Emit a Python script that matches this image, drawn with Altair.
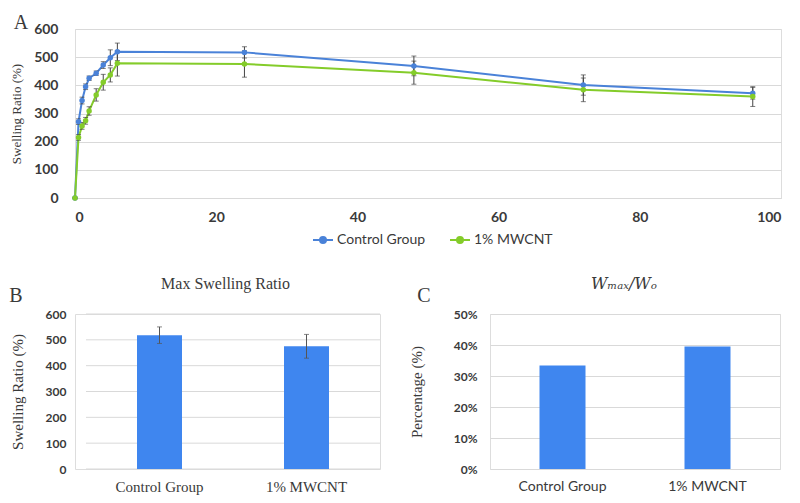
import altair as alt
import pandas as pd

# ---------------- data ----------------
time_h = [0, 0.5, 1, 1.5, 2, 3, 4, 5, 6, 24, 48, 72, 96]
control_mean = [0, 271, 346, 395, 425, 443, 472, 498, 519, 517, 469, 401, 372]
control_err = [0, 10, 12, 10, 8, 8, 12, 28, 31, 20, 35, 36, 21]
mwcnt_mean = [0, 215, 256, 274, 309, 366, 411, 437, 478, 476, 445, 384, 360]
mwcnt_err = [0, 10, 12, 12, 15, 22, 28, 25, 45, 47, 41, 42, 35]

groups = ["Control Group", "1% MWCNT"]
max_swelling = [518, 475]
max_swelling_err = [32, 46]
wmax_wo = [0.334, 0.395]

y_ticks_a = [0, 100, 200, 300, 400, 500, 600]
x_ticks_a = [0, 20, 40, 60, 80, 100]
pct_ticks = [0, 0.1, 0.2, 0.3, 0.4, 0.5]
panel_letters = ["A", "B", "C"]

SERIF = "Liberation Serif"
SANS = "Lato"
BLUE_LINE = "#4a82d8"
GREEN_LINE = "#84cc2a"
BAR = "#3f86ef"
GRID = "#d9d9d9"
TXT = "#3a3a3a"

rows = []
for g, means, errs in [(groups[0], control_mean, control_err), (groups[1], mwcnt_mean, mwcnt_err)]:
    for t, m, e in zip(time_h, means, errs):
        rows.append({"group": g, "time": t, "mean": m, "lo": m - e, "hi": m + e})
df_a = pd.DataFrame(rows)


def letter(ch, dx, dy):
    return alt.Chart(pd.DataFrame({"t": [ch]})).mark_text(
        font=SERIF, fontSize=20, color=TXT, align="center", baseline="middle"
    ).encode(text="t:N", x=alt.value(dx), y=alt.value(dy))


# ---------------- panel A ----------------
color_scale = alt.Scale(domain=groups, range=[BLUE_LINE, GREEN_LINE])
xa_scale = alt.Scale(domain=[0, 100], nice=False)
xa_axis = alt.Axis(values=x_ticks_a, title=None, grid=False, ticks=False,
                   domain=True, domainColor=GRID, labelFont=SANS, labelFontSize=14,
                   labelFontWeight="bold", labelColor=TXT, labelPadding=12, labelOverlap=False)
ya_scale = alt.Scale(domain=[0, 600], nice=False)
ya_axis = alt.Axis(values=y_ticks_a, title="Swelling Ratio (%)", grid=True, gridColor=GRID,
                   ticks=False, domain=False, labelFont=SANS, labelFontSize=14,
                   labelFontWeight="bold", labelColor=TXT, labelPadding=17,
                   labelOverlap=False, titleFont=SERIF, titleFontSize=13,
                   titleFontWeight="normal", titleColor=TXT, titlePadding=10)


def xa(field):
    return alt.X(field, scale=xa_scale, axis=xa_axis)


def ya(field):
    return alt.Y(field, scale=ya_scale, axis=ya_axis)


base_a = alt.Chart(df_a)
lines = base_a.mark_line(strokeWidth=2).encode(
    x=xa("time:Q"), y=ya("mean:Q"),
    color=alt.Color("group:N", scale=color_scale, sort=groups,
                    legend=alt.Legend(orient="none", legendX=237, legendY=200, direction="horizontal",
                                      title=None, labelFont=SANS, labelFontSize=14, labelColor=TXT,
                                      symbolType="M-1,0H1M0.3,0A0.3,0.3 0 1,1 -0.3,0A0.3,0.3 0 1,1 0.3,0",
                                      symbolSize=400, symbolStrokeWidth=2, columnPadding=20,
                                      labelOffset=3)),
)
points = base_a.mark_circle(size=30, opacity=1).encode(
    x=xa("time:Q"), y=ya("mean:Q"),
    color=alt.Color("group:N", scale=color_scale, sort=groups, legend=None),
)
whisk = base_a.mark_rule(color="#444444", strokeWidth=1).encode(
    x=xa("time:Q"), y=ya("lo:Q"), y2="hi:Q")
cap_lo = base_a.mark_tick(color="#444444", orient="horizontal", size=5, thickness=1).encode(
    x=xa("time:Q"), y=ya("lo:Q"))
cap_hi = base_a.mark_tick(color="#444444", orient="horizontal", size=5, thickness=1).encode(
    x=xa("time:Q"), y=ya("hi:Q"))

chart_a = alt.layer(lines, whisk, cap_lo, cap_hi, points, letter(panel_letters[0], -54, -6)).properties(
    width=706, height=169)

# ---------------- panel B ----------------
df_b = pd.DataFrame({"group": groups, "value": max_swelling,
                     "lo": [v - e for v, e in zip(max_swelling, max_swelling_err)],
                     "hi": [v + e for v, e in zip(max_swelling, max_swelling_err)]})
df_grid_b = pd.DataFrame({"v": y_ticks_a})

xb_scale = alt.Scale(range=[11, 305], paddingInner=0.69, paddingOuter=0.345)
xb_axis = alt.Axis(title=None, ticks=False, domain=False, labelAngle=0, labelFont=SERIF,
                   labelFontSize=15, labelColor=TXT, labelPadding=10)
yb_scale = alt.Scale(domain=[0, 600], nice=False)
yb_axis = alt.Axis(values=y_ticks_a, title="Swelling Ratio (%)", grid=False, ticks=False,
                   domain=False, offset=-11, labelFont=SANS, labelFontSize=12,
                   labelFontWeight="bold", labelColor=TXT, labelOverlap=False,
                   labelPadding=20, titleFont=SERIF, titleFontSize=15, titleFontWeight="normal",
                   titleColor=TXT, titlePadding=20)


def xb(field):
    return alt.X(field, sort=groups, scale=xb_scale, axis=xb_axis)


def yb(field):
    return alt.Y(field, scale=yb_scale, axis=yb_axis)


grid_b = alt.Chart(df_grid_b).mark_rule(color=GRID, strokeWidth=1).encode(
    y=yb("v:Q"), x=alt.value(11), x2=alt.value(305))
bars_b = alt.Chart(df_b).mark_bar(color=BAR, size=45).encode(x=xb("group:N"), y=yb("value:Q"))
err_b = alt.Chart(df_b).mark_rule(color="#555555", strokeWidth=1).encode(
    x=xb("group:N"), y=yb("lo:Q"), y2="hi:Q")
caplo_b = alt.Chart(df_b).mark_tick(color="#555555", orient="horizontal", size=5, thickness=1).encode(
    x=xb("group:N"), y=yb("lo:Q"))
caphi_b = alt.Chart(df_b).mark_tick(color="#555555", orient="horizontal", size=5, thickness=1).encode(
    x=xb("group:N"), y=yb("hi:Q"))

chart_b = alt.layer(grid_b, bars_b, err_b, caplo_b, caphi_b, letter(panel_letters[1], -59, -18)).properties(
    width=305, height=155,
    title=alt.TitleParams("Max Swelling Ratio", font=SERIF, fontSize=16, fontWeight="normal",
                          color=TXT, offset=-6, dx=-2),
)

# ---------------- panel C ----------------
df_c = pd.DataFrame({"group": groups, "value": wmax_wo})
bars_c = alt.Chart(df_c).mark_bar(color=BAR, size=46).encode(
    x=alt.X("group:N", sort=groups, scale=alt.Scale(paddingInner=0.68, paddingOuter=0.34),
            axis=alt.Axis(title=None, ticks=False, domain=False, labelAngle=0, labelFont=SANS,
                          labelFontSize=14, labelColor=TXT, labelPadding=10)),
    y=alt.Y("value:Q", scale=alt.Scale(domain=[0, 0.5], nice=False),
            axis=alt.Axis(values=pct_ticks, format=".0%", title="Percentage  (%)", grid=True,
                          gridColor=GRID, ticks=False, domain=False, labelFont=SANS, labelFontSize=12,
                          labelFontWeight="bold", labelColor=TXT, labelPadding=13, labelOverlap=False,
                          titleFont=SERIF, titleFontSize=15,
                          titleFontWeight="normal", titleColor=TXT, titlePadding=29)),
)
chart_c = alt.layer(bars_c, letter(panel_letters[2], -66, -18)).properties(
    width=290, height=155,
    title=alt.TitleParams("Wₘₐₓ/Wₒ", font="DejaVu Serif", fontStyle="italic", fontSize=16,
                          fontWeight="normal", color=TXT, offset=-6, dx=-11),
)

bottom = alt.hconcat(chart_b, chart_c, spacing=27)
chart = alt.vconcat(chart_a, bottom, spacing=50).properties(
    padding={"left": 0, "top": 4, "right": 5, "bottom": 0}
).configure_view(stroke=None).configure(background="white")

chart.save("out.html", embed_options={"renderer": "svg", "actions": False})
